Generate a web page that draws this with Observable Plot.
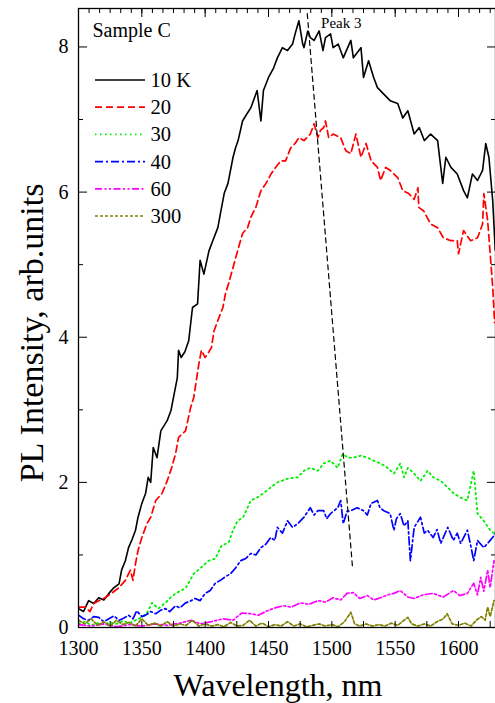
<!DOCTYPE html>
<html><head><meta charset="utf-8">
<script src="https://cdn.jsdelivr.net/npm/d3@7"></script>
<script src="https://cdn.jsdelivr.net/npm/@observablehq/plot@0.6"></script>
<style>
body{margin:0;background:#fff}
#chart svg{display:block}
#chart svg text{font-family:"Liberation Serif","Times New Roman",serif !important}
</style>
</head><body><div id="chart"></div>
<script>
// ---- data (wavelength nm, PL intensity arb. units) ----
const k10 = [[1300,0.26],[1304,0.22],[1308,0.37],[1312,0.33],[1316,0.41],[1320,0.38],[1324,0.47],[1328,0.55],[1332,0.6],[1334,0.79],[1337,0.92],[1339.5,1.10],[1342,1.2],[1345,1.34],[1347,1.52],[1350,1.71],[1353,1.85],[1355,2.07],[1357,2.0],[1359,2.48],[1362,2.34],[1365,2.71],[1370,2.85],[1373,2.99],[1375,3.17],[1378,3.44],[1379,3.82],[1381,3.72],[1384,3.8],[1387,3.95],[1390,4.41],[1394,4.46],[1396,5.06],[1399,4.87],[1403,5.19],[1406,5.33],[1410,5.51],[1412,5.70],[1415,5.98],[1418,6.12],[1422,6.48],[1424,6.61],[1426,6.71],[1429.5,6.98],[1433,7.08],[1436,7.16],[1441,7.40],[1444,6.98],[1446,7.40],[1450,7.58],[1454,7.71],[1457,7.85],[1461,7.99],[1465,7.95],[1469,8.04],[1471,8.18],[1474,8.36],[1477,8.04],[1478,7.99],[1481,8.22],[1483,8.13],[1486,8.09],[1490,8.22],[1493,7.95],[1495,8.13],[1499,8.18],[1501,7.99],[1505,8.04],[1509,7.85],[1515,8.09],[1517,7.85],[1523,7.99],[1525,7.58],[1529,7.81],[1533,7.58],[1536,7.44],[1541,7.35],[1546,7.26],[1552,7.22],[1556,7.02],[1560,7.12],[1565,6.80],[1569,6.89],[1573,6.71],[1578,6.80],[1583.5,6.71],[1587.5,6.12],[1590,6.48],[1594,6.34],[1599,6.25],[1604,6.02],[1607,5.92],[1611,6.25],[1615,6.16],[1619,6.30],[1621.5,6.67],[1624,6.48],[1627,5.88],[1629,5.2]];
const k20 = [[1300,0.28],[1305.5,0.28],[1309,0.22],[1312,0.33],[1316,0.37],[1321,0.41],[1326,0.47],[1332,0.55],[1337,0.65],[1341,0.79],[1343,0.65],[1345,0.88],[1347,1.06],[1350,1.24],[1354,1.43],[1357,1.52],[1361,1.75],[1366,1.85],[1370,2.02],[1373.5,2.20],[1376.6,2.39],[1379,2.62],[1384.5,2.71],[1388.5,3.03],[1391,3.17],[1393,3.40],[1395,3.63],[1397,3.82],[1400,3.72],[1403,3.8],[1405,3.86],[1407,4.09],[1410,4.23],[1414,4.41],[1416,4.60],[1418.5,4.74],[1422,4.96],[1425.6,5.19],[1429.5,5.43],[1433.5,5.51],[1436,5.65],[1440,5.79],[1444,6.02],[1448,6.12],[1452,6.25],[1455.6,6.34],[1459.6,6.43],[1463.5,6.43],[1467.5,6.61],[1471,6.67],[1474,6.75],[1478,6.71],[1483,6.80],[1486,6.94],[1489,6.75],[1491,6.85],[1493.6,6.89],[1495,6.98],[1497.5,6.75],[1501,6.80],[1507,6.75],[1511,6.57],[1515,6.53],[1519,6.80],[1523,6.48],[1527,6.67],[1531,6.43],[1536,6.34],[1538.5,6.16],[1542.5,6.34],[1546,6.30],[1552,6.20],[1556,6.02],[1560.7,5.98],[1565,5.9],[1568,6.06],[1568.6,5.79],[1572.5,5.74],[1578,5.56],[1583.5,5.51],[1588,5.37],[1594,5.33],[1599,5.33],[1600,5.15],[1604,5.47],[1609.6,5.33],[1615,5.37],[1619,5.56],[1620,5.98],[1623,5.61],[1625,5.15],[1627,4.69],[1628.5,4.2]];
const k30 = [[1300,0.05],[1305,0.08],[1310,0.03],[1315,0.06],[1320,0.04],[1325,0.07],[1330,0.05],[1335,0.09],[1340,0.06],[1345,0.1],[1350,0.14],[1354,0.2],[1358,0.34],[1363,0.26],[1368.7,0.34],[1372,0.4],[1376.6,0.47],[1384.5,0.54],[1391,0.74],[1397,0.83],[1402.7,0.92],[1408,0.95],[1413,1.13],[1418.5,1.17],[1422,1.34],[1425.6,1.47],[1430,1.52],[1436,1.75],[1441,1.79],[1446,1.85],[1451.7,1.93],[1457,2.00],[1465,2.05],[1473,2.07],[1478,2.16],[1483,2.20],[1489,2.16],[1493.5,2.26],[1499,2.30],[1504.6,2.20],[1508.5,2.39],[1513,2.34],[1517,2.34],[1523,2.37],[1528,2.34],[1533,2.30],[1538.5,2.26],[1544,2.20],[1549,2.12],[1554,2.26],[1557,2.07],[1560,2.20],[1565,2.12],[1570,2.02],[1575.6,2.16],[1580,2.07],[1586,2.02],[1591.5,1.93],[1596,1.85],[1601.7,1.79],[1607,1.75],[1612,2.16],[1615,1.57],[1620,1.47],[1625,1.34],[1629,1.29]];
const k40 = [[1300,0.17],[1304,0.12],[1308,0.10],[1312,0.15],[1316,0.14],[1320,0.08],[1324,0.12],[1328,0.16],[1332,0.10],[1336,0.13],[1339.5,0.17],[1343,0.12],[1346,0.23],[1350,0.15],[1353,0.17],[1357,0.22],[1361,0.19],[1365,0.24],[1368.7,0.26],[1372,0.22],[1376.6,0.30],[1380,0.27],[1384.5,0.34],[1388,0.36],[1392,0.40],[1396,0.37],[1400,0.47],[1404,0.51],[1408,0.61],[1412,0.65],[1416,0.7],[1420,0.74],[1424,0.82],[1428,0.92],[1432,0.95],[1436,1.02],[1440,1.0],[1444,1.10],[1448,1.15],[1451.7,1.24],[1455,1.2],[1457,1.38],[1461,1.3],[1465,1.47],[1469,1.38],[1473,1.43],[1478,1.52],[1483,1.65],[1486,1.55],[1489,1.61],[1493.5,1.61],[1496,1.5],[1499,1.57],[1504.6,1.65],[1507,1.75],[1509,1.43],[1512,1.6],[1515,1.61],[1520,1.65],[1525,1.61],[1528,1.55],[1531,1.71],[1536,1.75],[1538,1.65],[1541,1.61],[1546,1.57],[1549,1.34],[1551,1.5],[1554,1.57],[1557,1.4],[1560,1.47],[1562,0.92],[1565,1.38],[1570,1.52],[1573,1.3],[1575.6,1.34],[1580,1.24],[1583,1.35],[1586,1.16],[1591.5,1.38],[1596,1.20],[1599,1.3],[1601.7,1.16],[1607,1.34],[1610,1.1],[1612,0.92],[1615,1.20],[1620,1.10],[1625,1.20],[1629,1.29]];
const k60 = [[1300,0.04],[1310,0.02],[1320,0.05],[1330,0.01],[1340,0.04],[1350,0.02],[1360,0.05],[1370,0.03],[1380,0.06],[1389,0.10],[1396,0.05],[1405,0.08],[1414,0.12],[1422,0.10],[1429,0.2],[1436,0.19],[1442,0.17],[1449,0.23],[1455,0.27],[1462,0.30],[1468,0.28],[1475,0.34],[1482,0.32],[1489,0.37],[1495,0.35],[1501,0.41],[1507,0.38],[1512,0.47],[1517,0.48],[1522,0.40],[1528,0.44],[1533,0.38],[1538.5,0.41],[1544,0.45],[1549,0.47],[1554,0.51],[1560,0.42],[1565,0.40],[1572,0.45],[1580,0.47],[1588,0.42],[1596,0.51],[1601,0.44],[1607,0.47],[1612,0.61],[1615,0.45],[1617.5,0.69],[1620,0.5],[1623,0.79],[1625,0.55],[1628,0.92]];
const k300 = [[1300,0.1],[1305,0.05],[1310,0.12],[1315,0.03],[1320,0.08],[1325,0.02],[1330,0.1],[1335,0.04],[1340,0.07],[1345,0.02],[1350,0.12],[1355,0.03],[1360,0.06],[1365,0.02],[1370,0.08],[1375,0.02],[1380,0.05],[1385,0.03],[1390,0.1],[1395,0.02],[1400,0.05],[1405,0.02],[1410,0.04],[1415,0.01],[1420,0.07],[1425,0.02],[1430,0.03],[1435,0.1],[1440,0.02],[1445,0.06],[1450,0.01],[1455,0.04],[1460,0.02],[1465,0.08],[1470,0.02],[1475,0.05],[1480,0.01],[1485,0.03],[1490,0.05],[1495,0.02],[1500,0.04],[1505,0.01],[1510,0.08],[1515,0.21],[1518,0.05],[1522,0.02],[1527,0.05],[1532,0.02],[1537,0.04],[1542,0.02],[1547,0.06],[1552,0.03],[1557,0.1],[1560,0.14],[1563,0.05],[1568,0.02],[1573,0.05],[1578,0.02],[1583,0.08],[1588,0.12],[1591,0.19],[1595,0.05],[1600,0.03],[1605,0.06],[1610,0.02],[1614,0.1],[1618,0.15],[1621,0.1],[1623,0.28],[1625,0.15],[1628,0.37]];

// Peak 3 guide line (wavelength, intensity) and its label
const peakX = [1480.6, 1516.4];
const peakY = [8.46, 0.81];
const peakLabel = {text: "Peak 3", x: 1491.5, y: 8.26};

const legendLabels = ["10 K", "20", "30", "40", "60", "300"];
const sampleLabel = "Sample C";
const xTitle = "Wavelength, nm";
const yTitle = "PL Intensity, arb.units";

// tick values
const xMajor = [1300, 1350, 1400, 1450, 1500, 1550, 1600];
const yMajor = [0, 2, 4, 6, 8];
const yMinor = [1, 3, 5, 7];

// ---- styles ----
const styles = [
  {data: k10,  stroke: "#000000", dash: null,                width: 1.6},
  {data: k20,  stroke: "#ff0000", dash: "7,4",               width: 1.7},
  {data: k30,  stroke: "#00ee00", dash: "1.5,3.5",           width: 1.8},
  {data: k40,  stroke: "#0000ff", dash: "8,3,2,3",           width: 1.7},
  {data: k60,  stroke: "#ff00ff", dash: "7,2.5,2,2.5,2,2.5", width: 1.7},
  {data: k300, stroke: "#808000", dash: "3,2",               width: 1.7}
];

const W = 495, H = 703;
const xTicks25 = d3.range(1300, 1630, 25);
const xTopMinor = d3.range(0, 40).map(i => 1300 + i * 50 / 6).filter(v => v <= 1629);
const font = "Liberation Serif, Times New Roman, serif";

const lineMarks = styles.map(s => Plot.line(s.data, {
  x: d => d[0], y: d => d[1], stroke: s.stroke, strokeWidth: s.width,
  strokeDasharray: s.dash, clip: true
}));

const peakData = peakX.map((x, i) => ({x, y: peakY[i]}));

const chart = Plot.plot({
  width: W, height: H,
  marginLeft: 78, marginRight: 0, marginTop: 8, marginBottom: 76,
  style: {fontFamily: font, fontSize: "20px", background: "#fff", color: "#000"},
  x: {domain: [1300, 1629.2]},
  y: {domain: [0, 8.53]},
  marks: [
    ...lineMarks,
    Plot.line(peakData, {x: "x", y: "y", stroke: "#000", strokeWidth: 1.2, strokeDasharray: "5,4"}),
    Plot.text([peakLabel], {x: "x", y: "y", text: "text", textAnchor: "start", lineAnchor: "bottom", fontSize: 15, fill: "#000"}),
    // bottom axis
    Plot.axisX({anchor: "bottom", ticks: xTicks25, tickSize: -6, tickFormat: () => "", label: null}),
    Plot.axisX({anchor: "bottom", ticks: xMajor, tickSize: 0, tickPadding: 13, tickFormat: d => String(d), label: null, fontSize: 20}),
    // top axis
    Plot.axisX({anchor: "top", ticks: xTopMinor, tickSize: -4, tickFormat: () => "", label: null}),
    Plot.axisX({anchor: "top", ticks: xMajor, tickSize: -8, tickFormat: () => "", label: null}),
    // left axis
    Plot.axisY({anchor: "left", ticks: yMajor, tickSize: -9, tickFormat: () => "", label: null}),
    Plot.axisY({anchor: "left", ticks: yMinor, tickSize: -5, tickFormat: () => "", label: null}),
    Plot.axisY({anchor: "left", ticks: yMajor, tickSize: 0, tickPadding: 10, tickFormat: d => String(d), label: null, fontSize: 20}),
    // right axis
    Plot.axisY({anchor: "right", ticks: yMajor, tickSize: -9, tickFormat: () => "", label: null}),
    Plot.axisY({anchor: "right", ticks: yMinor, tickSize: -5, tickFormat: () => "", label: null}),
    Plot.frame({stroke: "#000", strokeWidth: 1.3})
  ]
});

document.getElementById("chart").appendChild(chart);

// ---- titles and legend ----
const svg = d3.select(chart);
const g = svg.append("g").attr("font-family", font).attr("fill", "#000");
g.append("text").attr("x", 278).attr("y", 696).attr("text-anchor", "middle")
  .attr("font-size", 32).text(xTitle);
g.append("text").attr("transform", "translate(43,333) rotate(-90)").attr("text-anchor", "middle")
  .attr("font-size", 34).text(yTitle);

g.append("text").attr("x", 92.5).attr("y", 37).attr("text-anchor", "start")
  .attr("font-size", 20).text(sampleLabel);
legendLabels.forEach((lab, i) => {
  const s = styles[i];
  const yb = 87 + i * 27.2;
  g.append("line").attr("x1", 95).attr("x2", 145).attr("y1", yb - 7).attr("y2", yb - 7)
    .attr("stroke", s.stroke).attr("stroke-width", s.width)
    .attr("stroke-dasharray", s.dash);
  g.append("text").attr("x", 150.5).attr("y", yb).attr("text-anchor", "start")
    .attr("font-size", 20.5).text(lab);
});
</script></body></html>
